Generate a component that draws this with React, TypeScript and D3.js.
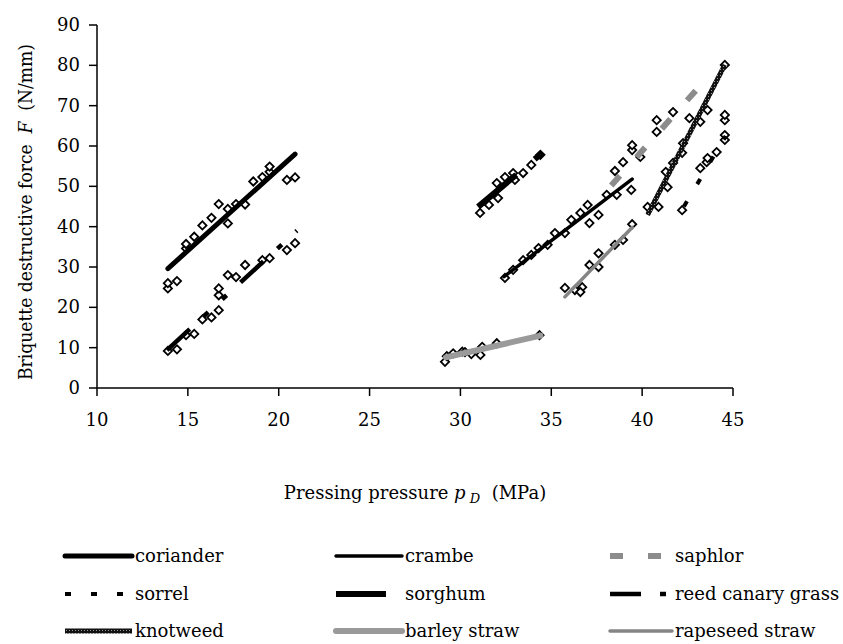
import React from 'react';
import * as d3 from 'd3';

// readings from the reference picture (pressure MPa, force N/mm)
const corianderX = [13.9, 13.9, 14.4, 14.9, 14.9, 15.35, 15.8, 16.3, 16.7, 17.2, 17.2, 17.65, 18.15, 18.6, 19.1, 19.5, 19.5, 20.45, 20.9];
const corianderY = [24.7, 26.0, 26.5, 34.6, 35.7, 37.5, 40.3, 42.2, 45.6, 40.8, 44.4, 45.6, 45.5, 51.2, 52.3, 53.6, 54.9, 51.6, 52.2];
const corianderTrend = [[13.9, 29.6], [20.9, 58.0]];

const reedX = [13.9, 14.4, 14.9, 15.35, 15.8, 16.3, 16.7, 16.7, 16.7, 17.2, 17.65, 18.15, 19.1, 19.5, 20.45, 20.9];
const reedY = [9.2, 9.6, 13.1, 13.4, 17.0, 17.5, 19.3, 23.0, 24.7, 28.0, 27.5, 30.5, 31.7, 32.2, 34.2, 35.9];
const reedTrend = [[13.85, 9.4], [21.0, 39.0]];

const sorghumX = [31.08, 31.57, 32.07, 32.0, 32.45, 32.9, 33.0, 33.45, 33.9, 34.4];
const sorghumY = [43.4, 45.4, 47.1, 50.8, 52.3, 53.3, 51.6, 53.3, 55.3, 57.8];
const sorghumTrend = [[30.97, 44.9], [34.5, 58.3]];

const barleyX = [29.15, 29.25, 29.6, 30.1, 30.25, 30.6, 31.1, 31.2, 32.0, 34.35];
const barleyY = [6.5, 7.9, 8.6, 9.0, 8.9, 8.4, 8.2, 10.2, 11.1, 13.1];
const barleyTrend = [[29.2, 7.6], [34.4, 13.0]];

const crambeX = [32.45, 32.9, 33.45, 33.9, 34.3, 34.8, 35.2, 35.75, 36.1, 36.6, 37.0, 37.1, 37.6, 38.05, 38.6, 39.4];
const crambeY = [27.3, 29.3, 31.7, 33.0, 34.7, 35.5, 38.4, 38.4, 41.7, 43.4, 45.4, 40.9, 42.9, 47.9, 47.9, 49.1];
const crambeTrend = [[32.4, 27.6], [39.45, 51.8]];

const rapeseedX = [35.75, 36.3, 36.7, 36.6, 37.1, 37.6, 37.6, 38.5, 38.95, 39.45];
const rapeseedY = [24.8, 24.3, 25.0, 23.8, 30.5, 33.4, 30.0, 35.5, 36.7, 40.6];
const rapeseedTrend = [[35.75, 22.6], [39.45, 39.8]];

const saphlorX = [38.5, 38.95, 39.45, 39.45, 39.9, 40.8, 40.8, 41.7];
const saphlorY = [53.8, 56.0, 59.0, 60.2, 57.3, 66.4, 63.5, 68.4];
const saphlorTrend = [[38.3, 50.2], [43.2, 75.0]];

const knotweedX = [40.3, 40.9, 41.3, 41.4, 41.7, 42.2, 42.25, 42.6, 43.2, 43.6, 44.55];
const knotweedY = [44.9, 44.9, 53.6, 49.8, 55.8, 58.3, 60.7, 66.9, 66.0, 68.9, 80.1];
const knotweedTrend = [[40.3, 42.9], [44.55, 80.1]];

const sorrelX = [42.2, 43.2, 43.55, 43.6, 44.1, 44.55, 44.55, 44.55, 44.55];
const sorrelY = [44.1, 54.5, 56.0, 57.0, 58.5, 61.5, 62.7, 66.4, 67.7];
const sorrelTrend = [[42.3, 45.0], [44.6, 62.5]];

const xTicks = [10, 15, 20, 25, 30, 35, 40, 45];
const yTicks = [0, 10, 20, 30, 40, 50, 60, 70, 80, 90];

const FONT = 'DejaVu Serif';

const series = [
  { name: 'coriander', xs: corianderX, ys: corianderY, trend: corianderTrend, stroke: '#000', width: 5, dash: null, cap: 'round', col: 0, row: 0 },
  { name: 'crambe', xs: crambeX, ys: crambeY, trend: crambeTrend, stroke: '#000', width: 3.5, dash: null, cap: 'round', col: 1, row: 0 },
  { name: 'saphlor', xs: saphlorX, ys: saphlorY, trend: saphlorTrend, stroke: '#8c8c8c', width: 6, dash: '13,25', cap: 'butt', col: 2, row: 0 },
  { name: 'sorrel', xs: sorrelX, ys: sorrelY, trend: sorrelTrend, stroke: '#000', width: 4, dash: '6,20', cap: 'butt', col: 0, row: 1 },
  { name: 'sorghum', xs: sorghumX, ys: sorghumY, trend: sorghumTrend, stroke: '#000', width: 6, dash: '50,24', cap: 'butt', col: 1, row: 1 },
  { name: 'reed canary grass', xs: reedX, ys: reedY, trend: reedTrend, stroke: '#000', width: 4.5, dash: '31,19,6,19,6,19', cap: 'butt', col: 2, row: 1 },
  { name: 'knotweed', xs: knotweedX, ys: knotweedY, trend: knotweedTrend, stroke: 'url(#hatch)', width: 5, dash: null, cap: 'butt', col: 0, row: 2 },
  { name: 'barley straw', xs: barleyX, ys: barleyY, trend: barleyTrend, stroke: '#9a9a9a', width: 6, dash: null, cap: 'round', col: 1, row: 2 },
  { name: 'rapeseed straw', xs: rapeseedX, ys: rapeseedY, trend: rapeseedTrend, stroke: '#858585', width: 3.5, dash: null, cap: 'round', col: 2, row: 2 },
];

const legendCols = [[65, 132], [336, 402], [610, 672]];
const legendRows = [556, 594, 631];

export default function App() {
  const width = 843;
  const height = 644;

  const x = d3.scaleLinear().domain([10, 45]).range([97, 733]);
  const y = d3.scaleLinear().domain([0, 90]).range([388, 25]);

  const line = d3.line().x(d => x(d[0])).y(d => y(d[1]));
  const marker = d3.symbol(d3.symbolSquare, 34)();

  return (
    <div style={{ position: 'absolute', left: 0, top: 0 }}>
      <svg width={width} height={height} style={{ display: 'block', background: '#fff' }}>
        <defs>
          <pattern id="hatch" width="3" height="3" patternUnits="userSpaceOnUse">
            <rect width="3" height="3" fill="#111" />
            <rect width="1" height="1" fill="#9a9a9a" />
          </pattern>
        </defs>

        {/* axes */}
        <g stroke="#000" strokeWidth="1.5" fill="none">
          <line x1={x(10)} x2={x(10)} y1={y(90)} y2={y(0)} />
          <line x1={x(10)} x2={x(45)} y1={y(0)} y2={y(0)} />
          {yTicks.map(t => <line key={'yt' + t} x1={x(10) - 8} x2={x(10)} y1={y(t)} y2={y(t)} />)}
          {xTicks.map(t => <line key={'xt' + t} x1={x(t)} x2={x(t)} y1={y(0)} y2={y(0) + 8} />)}
        </g>
        <g fontFamily={FONT} fontSize="18" fill="#000">
          {yTicks.map(t => <text key={'yl' + t} x={x(10) - 17} y={y(t) + 6} textAnchor="end">{t}</text>)}
          {xTicks.map(t => <text key={'xl' + t} x={x(t)} y={y(0) + 38} textAnchor="middle">{t}</text>)}
        </g>

        {/* points */}
        <g fill="#fff" stroke="#000" strokeWidth="1.8">
          {series.map(s => s.xs.map((v, i) => (
            <path key={s.name + i} d={marker} transform={`translate(${x(v)},${y(s.ys[i])}) rotate(45)`} />
          )))}
        </g>

        {/* trend lines */}
        <g fill="none">
          {series.map(s => (
            <path key={'tr' + s.name} d={line(s.trend)} stroke={s.stroke} strokeWidth={s.width}
              strokeDasharray={s.dash || undefined} strokeLinecap={s.cap} />
          ))}
        </g>

        {/* axis titles */}
        <text x={415} y={499} textAnchor="middle" fontFamily={FONT} fontSize="18" style={{ whiteSpace: 'pre' }}>
          {'Pressing pressure '}<tspan fontStyle="italic">p</tspan>
          <tspan fontStyle="italic" fontSize="13" dy="4">{' D'}</tspan>
          <tspan dy="-4">{'  (MPa)'}</tspan>
        </text>
        <text transform="translate(32,212) rotate(-90)" textAnchor="middle" fontFamily={FONT} fontSize="18"
          textLength={336} lengthAdjust="spacingAndGlyphs" style={{ whiteSpace: 'pre' }}>
          {'Briquette destructive force  '}<tspan fontStyle="italic">F</tspan>{'  (N/mm)'}
        </text>

        {/* legend */}
        <g fontFamily={FONT} fontSize="18">
          {series.map(s => {
            const [x1, x2] = legendCols[s.col];
            const ly = legendRows[s.row];
            return (
              <g key={'lg' + s.name}>
                <line x1={x1} x2={x2} y1={ly} y2={ly} stroke={s.stroke} strokeWidth={s.width}
                  strokeDasharray={s.dash || undefined} strokeLinecap={s.cap === 'round' ? 'round' : 'butt'} />
                <text x={x2 + 3} y={ly + 6}>{s.name}</text>
              </g>
            );
          })}
        </g>
      </svg>
    </div>
  );
}
